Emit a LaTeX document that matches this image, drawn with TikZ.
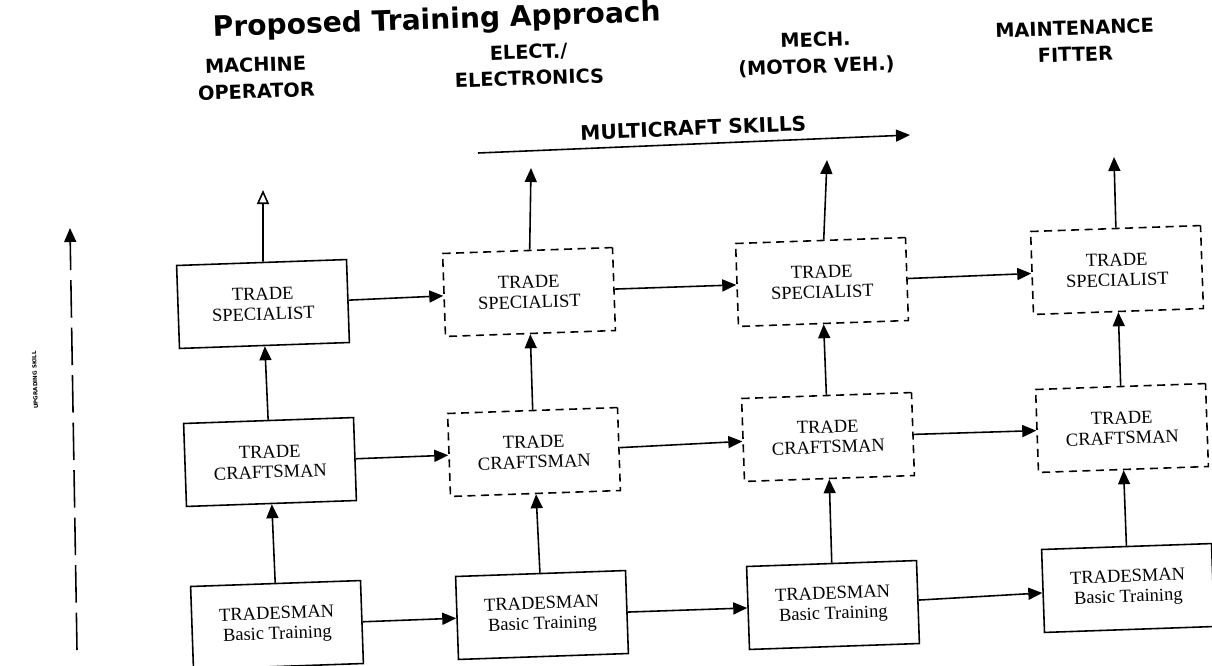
\documentclass[tikz,border=0pt]{standalone}
\usepackage{fontspec}
\setmainfont{Liberation Serif}
\newfontfamily\titrefont{DejaVu Sans}
\usetikzlibrary{arrows.meta}

\begin{document}
\begin{tikzpicture}[
    boite/.style={draw=black, line width=0.9pt, rectangle, minimum width=3.4cm, minimum height=1.66cm, align=center, rotate=2, font=\fontsize{10.5}{11.5}\selectfont},
    boitetiret/.style={boite, dash pattern=on 1.6mm off 1.1mm},
    entete/.style={align=center, rotate=2, font=\titrefont\bfseries\fontsize{11}{15}\selectfont},
    fleche/.style={-{Triangle[length=2.8mm, width=2.4mm]}, line width=0.9pt},
    flecheouverte/.style={-{Triangle[open, length=2.8mm, width=2.4mm]}, line width=0.9pt}]
        \useasboundingbox (0,0) rectangle (24.24,-13.3);

        \node[anchor=base west, rotate=2, font=\titrefont\bfseries\fontsize{16}{19}\selectfont] (titre) at (4.14,-0.74) {Proposed Training Approach};

        \node[entete] (op) at (5.12,-1.56) {MACHINE\\OPERATOR};
        \node[entete] (elec) at (10.58,-1.30) {ELECT./\\ELECTRONICS};
        \node[entete] (mech) at (16.32,-1.08) {MECH.\\(MOTOR VEH.)};
        \node[entete] (maint) at (21.50,-0.82) {MAINTENANCE\\FITTER};

        \node[boite] (spec1) at (5.26,-6.08) {TRADE\\SPECIALIST};
        \node[boite] (craft1) at (5.40,-9.24) {TRADE\\CRAFTSMAN};
        \node[boite] (trades1) at (5.54,-12.50) {TRADESMAN\\Basic Training};

        \node[boitetiret] (spec2) at (10.58,-5.84) {TRADE\\SPECIALIST};
        \node[boitetiret] (craft2) at (10.68,-9.04) {TRADE\\CRAFTSMAN};
        \node[boite] (trades2) at (10.84,-12.30) {TRADESMAN\\Basic Training};

        \node[boitetiret] (spec3) at (16.44,-5.64) {TRADE\\SPECIALIST};
        \node[boitetiret] (craft3) at (16.56,-8.74) {TRADE\\CRAFTSMAN};
        \node[boite] (trades3) at (16.66,-12.10) {TRADESMAN\\Basic Training};

        \node[boitetiret] (spec4) at (22.34,-5.40) {TRADE\\SPECIALIST};
        \node[boitetiret] (craft4) at (22.44,-8.56) {TRADE\\CRAFTSMAN};
        \node[boite] (trades4) at (22.56,-11.76) {TRADESMAN\\Basic Training};

        \coordinate (haut1) at (5.26,-3.80);
        \coordinate (haut2) at (10.62,-3.36);
        \coordinate (haut3) at (16.54,-3.20);
        \coordinate (haut4) at (22.28,-3.14);

        \draw[flecheouverte] (spec1) to (haut1);
        \draw[fleche] (spec2) to (haut2);
        \draw[fleche] (spec3) to (haut3);
        \draw[fleche] (spec4) to (haut4);

        \draw[fleche] (trades1) to (craft1);
        \draw[fleche] (craft1) to (spec1);
        \draw[fleche] (trades2) to (craft2);
        \draw[fleche] (craft2) to (spec2);
        \draw[fleche] (trades3) to (craft3);
        \draw[fleche] (craft3) to (spec3);
        \draw[fleche] (trades4) to (craft4);
        \draw[fleche] (craft4) to (spec4);

        \draw[fleche] (spec1) to (spec2);
        \draw[fleche] (spec2) to (spec3);
        \draw[fleche] (spec3) to (spec4);
        \draw[fleche] (craft1) to (craft2);
        \draw[fleche] (craft2) to (craft3);
        \draw[fleche] (craft3) to (craft4);
        \draw[fleche] (trades1) to (trades2);
        \draw[fleche] (trades2) to (trades3);
        \draw[fleche] (trades3) to (trades4);

        \coordinate (mcdebut) at (9.56,-3.06);
        \coordinate (mcfin) at (18.20,-2.70);
        \draw[fleche] (mcdebut) to node[above=1pt, sloped, font=\titrefont\bfseries\fontsize{11.5}{14}\selectfont] (multi) {MULTICRAFT SKILLS} (mcfin);

        \coordinate (basup) at (1.54,-13.00);
        \coordinate (hautup) at (1.40,-4.56);
        \draw[fleche, dash pattern=on 7.5mm off 2mm] (basup) to (hautup);
        \node[rotate=92, font=\titrefont\bfseries\fontsize{3.2}{4}\selectfont] (upgrading) at (0.70,-7.60) {UPGRADING SKILL};
    \end{tikzpicture}
\end{document}
